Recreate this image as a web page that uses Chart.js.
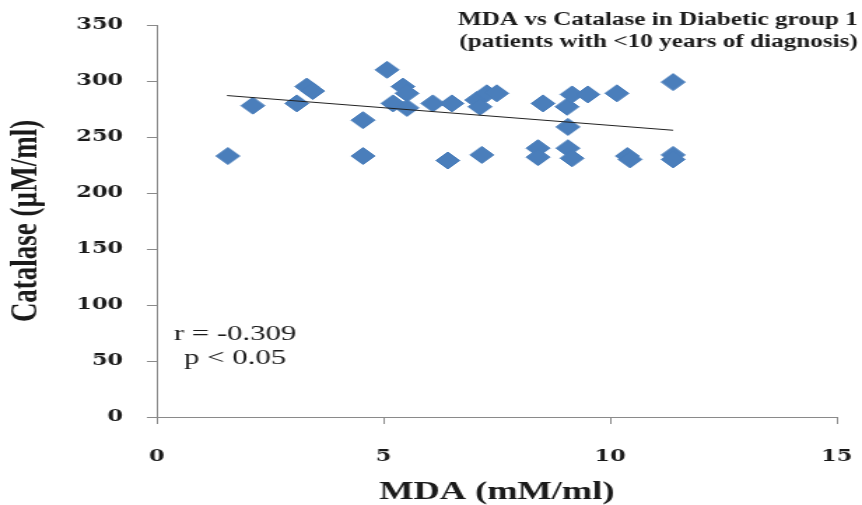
<!DOCTYPE html>
<html>
<head>
<meta charset="utf-8">
<script src="https://cdn.jsdelivr.net/npm/chart.js@4.4.1/dist/chart.umd.min.js"></script>
<style>
  html, body { margin: 0; padding: 0; background: #fff; overflow: hidden; }
  /* the source picture is a horizontally stretched chart, so stretch ours the same way */
  #wrap { width: 616px; height: 505px; transform: scaleX(1.39935); transform-origin: 0 0; }
</style>
</head>
<body>
<div id="wrap"><canvas id="chart" width="616" height="505"></canvas></div>
<script>
// MDA (mM/ml) on x, Catalase (uM/ml) on y
const mdaValues = [1.57, 2.12, 3.09, 3.31, 3.44, 4.55, 4.55, 5.08, 5.21, 5.43, 5.52, 5.52,
  6.09, 6.42, 6.51, 7.06, 7.13, 7.17, 7.28, 7.5, 8.41, 8.41, 8.52, 9.05, 9.16, 9.07, 9.07,
  9.16, 9.51, 10.15, 10.38, 10.44, 11.39, 11.39, 11.39];
const catalaseValues = [233, 278, 280, 295, 291, 265, 233, 310, 280, 295, 289, 276,
  280, 229, 280, 283, 277, 234, 289, 289, 240, 232, 280, 277, 288, 259, 240,
  231, 288, 289, 233, 230, 299, 234, 230];

// linear trend line end points
const trendX = [1.55, 11.39];
const trendY = [287, 256];

const xTicks = [0, 5, 10, 15];
const yTicks = [0, 50, 100, 150, 200, 250, 300, 350];

const titleLines = ["MDA vs Catalase in Diabetic group 1", "(patients with <10 years of diagnosis)"];
const statLines = ["r = -0.309", "p < 0.05"];

const points = mdaValues.map((x, i) => ({ x, y: catalaseValues[i] }));
const trend = trendX.map((x, i) => ({ x, y: trendY[i] }));

const axisGray = "#8a8a8a";
const textColor = "#1a1a1a";

const textPlugin = {
  id: "texts",
  afterDraw(chart) {
    const { ctx, chartArea } = chart;
    ctx.save();
    ctx.fillStyle = textColor;
    ctx.textBaseline = "middle";
    ctx.font = 'bold 18px "Liberation Serif"';
    ctx.textAlign = "right";
    titleLines.forEach((t, i) => ctx.fillText(t, chart.width - 3, 20 + i * 22));
    ctx.font = '22px "Liberation Serif"';
    ctx.textAlign = "center";
    statLines.forEach((t, i) => ctx.fillText(t, chartArea.left + 56, 334 + i * 24));
    ctx.restore();
  }
};

new Chart(document.querySelector("#chart"), {
  type: "scatter",
  data: {
    datasets: [
      {
        label: "Linear",
        type: "line",
        data: trend,
        showLine: true,
        borderColor: "#222",
        borderWidth: 1,
        pointRadius: 0,
        fill: false
      },
      {
        label: "Catalase",
        data: points,
        pointStyle: "rectRot",
        pointRadius: 8.5,
        pointHoverRadius: 8.5,
        backgroundColor: "#4a7ebb",
        borderColor: "#4a7ebb",
        borderWidth: 1
      }
    ]
  },
  options: {
    responsive: false,
    animation: false,
    events: [],
    layout: { padding: { left: 0, right: 18, top: 25, bottom: 0 } },
    plugins: {
      legend: { display: false },
      tooltip: { enabled: false }
    },
    scales: {
      x: {
        type: "linear",
        min: xTicks[0],
        max: xTicks[xTicks.length - 1],
        afterBuildTicks: s => { s.ticks = xTicks.map(v => ({ value: v })); },
        afterFit: s => { s.height = 88; s.paddingLeft = 0; s.paddingRight = 0; },
        ticks: {
          color: textColor,
          padding: 23,
          maxRotation: 0,
          font: { family: "DejaVu Serif", weight: "bold", size: 16 }
        },
        grid: { drawOnChartArea: false, tickLength: 7, color: axisGray },
        border: { color: axisGray, width: 1 },
        title: {
          display: true,
          text: "MDA (mM/ml)",
          color: textColor,
          padding: 0,
          font: { family: "Liberation Serif", weight: "bold", size: 26, lineHeight: 1 }
        }
      },
      y: {
        type: "linear",
        min: yTicks[0],
        max: yTicks[yTicks.length - 1],
        afterBuildTicks: s => { s.ticks = yTicks.map(v => ({ value: v })); },
        afterFit: s => { s.width = 112; s.paddingTop = 0; s.paddingBottom = 0; },
        ticks: {
          color: textColor,
          padding: 17,
          font: { family: "DejaVu Serif", weight: "bold", size: 16 }
        },
        grid: { drawOnChartArea: false, tickLength: 7, color: axisGray },
        border: { color: axisGray, width: 1 },
        title: {
          display: true,
          text: "Catalase (µM/ml)",
          color: textColor,
          padding: { top: 6, bottom: 0 },
          font: { family: "Liberation Serif", weight: "bold", size: 27, lineHeight: 1 }
        }
      }
    }
  },
  plugins: [textPlugin]
});
</script>
</body>
</html>
